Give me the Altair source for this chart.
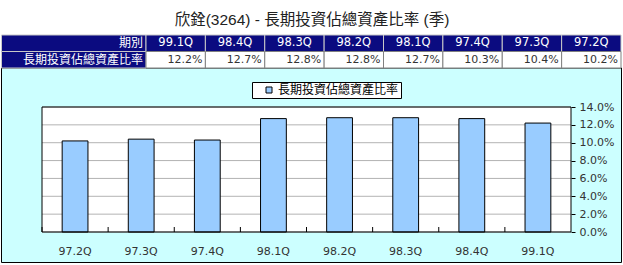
import altair as alt
import pandas as pd

# ---------------- data ----------------
title_text = "欣銓(3264) - 長期投資佔總資產比率 (季)"
header_label = "期別"
series_label = "長期投資佔總資產比率"
periods = ["99.1Q", "98.4Q", "98.3Q", "98.2Q", "98.1Q", "97.4Q", "97.3Q", "97.2Q"]
ratios = [12.2, 12.7, 12.8, 12.8, 12.7, 10.3, 10.4, 10.2]
y_ticks = [0, 2, 4, 6, 8, 10, 12, 14]

# ---------------- styles / layout ----------------
NAVY = "#0B0B80"
CYAN = "#CCFFFF"
BAR = "#99CCFF"
CJK = "Noto Sans CJK TC"
LAT = "DejaVu Sans"
TITLE_FONT = "Liberation Sans, Noto Sans CJK TC"

W, H = 529, 125          # plot area
OX, OY = 42, 107          # plot origin within the 623x265 page
PAGE_W, PAGE_H = 623, 265

one = alt.Data(values=[{}])

# ---------------- bar chart part ----------------
chart_periods = periods[::-1]
chart_ratios = ratios[::-1]
chart_df = pd.DataFrame({"period": chart_periods, "ratio": chart_ratios, "series": series_label})

x_scale = alt.Scale(domain=chart_periods, paddingInner=0, paddingOuter=0)
x_axis = alt.Axis(title=None, labelAngle=0, ticks=False, domain=False, labelPadding=13,
                  labelFont=LAT, labelFontSize=11, labelColor="#333333", zindex=1)
y_scale = alt.Scale(domain=[0, 14], nice=False)
y_axis = alt.Axis(orient="right", values=y_ticks, grid=False, domain=False, tickSize=4,
                  tickColor="black", labelPadding=4, zindex=1, title=None,
                  labelExpr="format(datum.value, '.1f') + '%'",
                  labelFont=LAT, labelFontSize=11, labelColor="#333333")

bg = alt.Chart(one).mark_rect(fill=CYAN, stroke="black", strokeWidth=1).encode(
    x=alt.value(-OX + 1.5), x2=alt.value(PAGE_W - OX - 1.5),
    y=alt.value(68 - OY), y2=alt.value(PAGE_H - OY - 2.5))
plot_bg = alt.Chart(one).mark_rect(fill="white").encode(
    x=alt.value(0), x2=alt.value(W), y=alt.value(0), y2=alt.value(H))
grid = alt.Chart(pd.DataFrame({"tick": y_ticks})).mark_rule(color="#B3B3B3", strokeWidth=1).encode(
    y=alt.Y("tick:Q", scale=y_scale, axis=y_axis))
bars = alt.Chart(chart_df).mark_bar(
    width=alt.RelativeBandSize(0.39), stroke="black", strokeWidth=1
).encode(
    x=alt.X("period:N", scale=x_scale, axis=x_axis),
    y=alt.Y("ratio:Q", scale=y_scale, axis=y_axis),
    color=alt.Color("series:N", scale=alt.Scale(range=[BAR]),
                    legend=alt.Legend(title=None, orient="none", legendX=210, legendY=-25,
                                      fillColor="white", strokeColor="black", padding=2,
                                      symbolType="square", symbolSize=36,
                                      symbolStrokeColor="black", symbolStrokeWidth=1,
                                      symbolOffset=9, labelOffset=3,
                                      labelFont=CJK, labelFontSize=12, labelColor="black")))
inner_ticks = alt.Chart(chart_df).mark_rule(color="black", strokeWidth=1).encode(
    x=alt.X("period:N", scale=x_scale, axis=x_axis, bandPosition=0),
    y=alt.value(H - 5), y2=alt.value(H))
border = alt.Chart(one).mark_rect(fillOpacity=0, stroke="black", strokeWidth=1).encode(
    x=alt.value(0), x2=alt.value(W), y=alt.value(0), y2=alt.value(H))

main = alt.layer(bg, plot_bg, grid, bars, inner_ticks, border)

# ---------------- table part (own scales) ----------------
row_names = [header_label, series_label]
y_row = alt.Y("row:N", scale=alt.Scale(domain=row_names, paddingInner=0, paddingOuter=0,
                                       range=[35 - OY, 68 - OY]), axis=None)
LABEL_RIGHT = 146 - OX
tab_scale = alt.Scale(domain=periods, paddingInner=0, paddingOuter=0,
                      range=[LABEL_RIGHT, PAGE_W - 2 - OX])

label_df = pd.DataFrame({"row": row_names})
hdr_df = pd.DataFrame({"period": periods, "row": header_label})
val_df = pd.DataFrame({"period": periods, "row": series_label, "ratio": ratios})

label_rect = alt.Chart(label_df).mark_rect(fill=NAVY, stroke="#c8c8c8", strokeWidth=1).encode(
    x=alt.value(-OX + 1.5), x2=alt.value(LABEL_RIGHT), y=y_row)
label_text = alt.Chart(label_df).mark_text(
    align="right", baseline="middle", color="white", font=CJK, fontSize=12, dx=-3
).encode(x=alt.value(LABEL_RIGHT), y=y_row, text="row:N")
hdr_rect = alt.Chart(hdr_df).mark_rect(fill=NAVY, stroke="#c8c8c8", strokeWidth=1).encode(
    x=alt.X("period:N", scale=tab_scale, axis=None), y=y_row)
val_rect = alt.Chart(val_df).mark_rect(fill="white", stroke="#808080", strokeWidth=1).encode(
    x=alt.X("period:N", scale=tab_scale, axis=None), y=y_row)
hdr_text = alt.Chart(hdr_df).mark_text(
    color="white", font=LAT, fontSize=11.5, baseline="middle"
).encode(x=alt.X("period:N", scale=tab_scale, axis=None), y=y_row, text="period:N")
val_text = alt.Chart(val_df).transform_calculate(
    label="format(datum.ratio, '.1f') + '%'"
).mark_text(
    align="right", baseline="middle", color="#333333", font=LAT, fontSize=11, dx=-3
).encode(
    x=alt.X("period:N", scale=tab_scale, axis=None, bandPosition=1),
    y=y_row, text="label:N")
title_mark = alt.Chart(one).mark_text(
    text=title_text, font=TITLE_FONT, fontSize=15.5, color="#222222",
    align="center", baseline="middle"
).encode(x=alt.value(312 - OX), y=alt.value(20 - OY))

table = alt.layer(label_rect, hdr_rect, val_rect, label_text, hdr_text, val_text, title_mark)

chart = alt.layer(main, table).resolve_scale(
    x="independent", y="independent"
).properties(
    width=W, height=H,
    autosize=alt.AutoSizeParams(type="none"),
    padding={"left": OX, "top": OY, "right": PAGE_W - OX - W, "bottom": PAGE_H - OY - H},
    background="white",
).configure_view(strokeWidth=0)

chart.save("out.html", embed_options={"renderer": "svg", "actions": False})
